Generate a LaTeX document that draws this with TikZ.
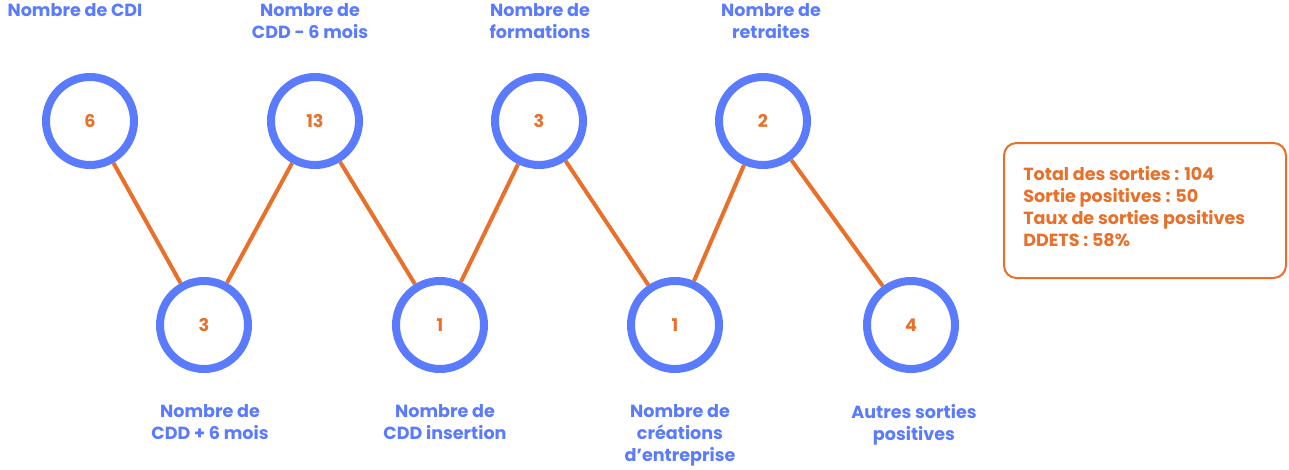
\documentclass[tikz,border=0pt]{standalone}
\usepackage{fontspec}
\setmainfont{Poppins}
\usetikzlibrary{positioning,backgrounds}
\definecolor{ringblue}{HTML}{5B7BFF}
\definecolor{accent}{HTML}{E8702A}
\begin{document}
\begin{tikzpicture}[
    x=0.02cm, y=-0.02cm,
    ring/.style={circle, draw=ringblue, line width=0.16cm, minimum size=1.76cm, inner sep=0pt, text=accent, font=\fontsize{10}{12}\selectfont\bfseries},
    link/.style={draw=accent, line width=0.08cm},
    label/.style={text=ringblue, align=center, font=\fontsize{10}{12.5}\selectfont\bfseries, inner sep=0pt}
]
    \useasboundingbox (0,0) rectangle (1289,470);
    % Top row
    \node[ring] (cdi) at (90,121) {6};
    \node[ring] (cddm) at (315,121) {13};
    \node[ring] (form) at (539,121) {3};
    \node[ring] (retr) at (763,121) {2};
    % Bottom row
    \node[ring] (cddp) at (204,325) {3};
    \node[ring] (ins) at (440,325) {1};
    \node[ring] (crea) at (675,325) {1};
    \node[ring] (autre) at (911,325) {4};
    % Connectors
    \begin{scope}[on background layer]
        \draw[link] (cdi) -- (cddp) -- (cddm) -- (ins) -- (form) -- (crea) -- (retr) -- (autre);
    \end{scope}
    % Labels
    \node[label, anchor=north] at (75,3) {Nombre de CDI};
    \node[label, anchor=north] at (310,3) {Nombre de\\CDD - 6 mois};
    \node[label, anchor=north] at (540,3) {Nombre de\\formations};
    \node[label, anchor=north] at (771,3) {Nombre de\\retraites};
    \node[label, anchor=north] at (210,404) {Nombre de\\CDD + 6 mois};
    \node[label, anchor=north] at (445,404) {Nombre de\\CDD insertion};
    \node[label, anchor=north] at (680,404) {Nombre de\\créations\\d’entreprise};
    \node[label, anchor=north] at (914,404) {Autres sorties\\positives};
    % Summary box
    \draw[accent, line width=0.04cm, rounded corners=0.25cm] (1004,143) rectangle (1286,278);
    \node[label, text=accent, align=left, anchor=north west] (total) at (1023,166)
        {Total des sorties : 104\\Sortie positives : 50\\Taux de sorties positives\\DDETS : 58\%};
\end{tikzpicture}
\end{document}
